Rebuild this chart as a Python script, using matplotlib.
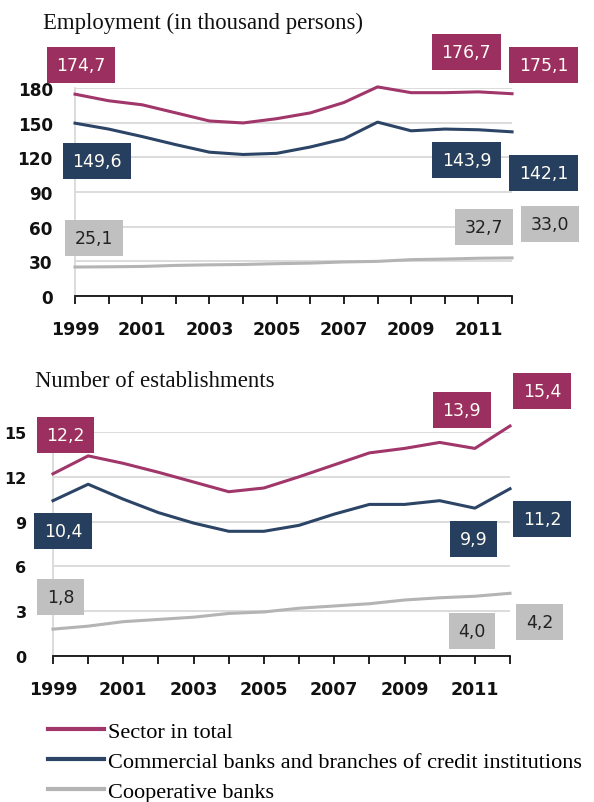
import matplotlib.pyplot as plt
from matplotlib.lines import Line2D
from matplotlib.path import Path

years = list(range(1999, 2013))
tick_years = list(range(1999, 2013, 2))

# Employment (thousand persons)
emp_total = [174.7, 169.0, 165.5, 158.5, 151.5, 149.8, 153.5, 158.5, 167.5, 181.0, 176.0, 176.0, 176.7, 175.1]
emp_commercial = [149.6, 144.5, 138.0, 131.0, 124.5, 122.5, 123.5, 129.0, 136.0, 150.5, 143.0, 144.5, 143.9, 142.1]
emp_cooperative = [25.1, 25.3, 25.6, 26.5, 27.0, 27.3, 28.0, 28.5, 29.5, 30.0, 31.5, 32.0, 32.7, 33.0]

# Number of establishments (thousand)
est_total = [12.2, 13.4, 12.9, 12.3, 11.65, 11.0, 11.25, 12.0, 12.8, 13.6, 13.9, 14.3, 13.9, 15.4]
est_commercial = [10.4, 11.5, 10.5, 9.6, 8.9, 8.35, 8.35, 8.75, 9.5, 10.15, 10.15, 10.4, 9.9, 11.2]
est_cooperative = [1.8, 2.0, 2.3, 2.45, 2.6, 2.85, 2.95, 3.2, 3.35, 3.5, 3.75, 3.9, 4.0, 4.2]

series_names = ['Sector in total',
                'Commercial banks and branches of credit institutions',
                'Cooperative banks']
line_colors = ['#a0366a', '#2c4566', '#b4b4b4']
box_colors = ['#9b2f60', '#263f5e', '#c0c0c0']
text_colors = ['#fffdf5', '#fffdf5', '#222222']

# (series index, year, value, dx px, dy px)
emp_labels = [(0, 1999, 174.7, 6, 29.5), (0, 2011, 176.7, -12, 40), (0, 2012, 175.1, 31.5, 29),
              (1, 1999, 149.6, 22, -38), (1, 2011, 143.9, -12, -30), (1, 2012, 142.1, 31.5, -41),
              (2, 1999, 25.1, 19, 29), (2, 2011, 32.7, 5.5, 31), (2, 2012, 33.0, 38, 34)]
est_labels = [(0, 1999, 12.2, 12.5, 39), (0, 2011, 13.9, -13, 38.5), (0, 2012, 15.4, 32, 35),
              (1, 1999, 10.4, 10, -30), (1, 2011, 9.9, -1, -31), (1, 2012, 11.2, 32, -30),
              (2, 1999, 1.8, 7.5, 32.5), (2, 2011, 4.0, -3, -35), (2, 2012, 4.2, 29.5, -29)]


def label_box(x0, y0, width, height, mutation_size):
    # flat rectangle, padding in pixels
    px, py = 9.5, 9.0
    x0, x1 = x0 - px, x0 + width + px
    y0, y1 = y0 - py, y0 + height + py
    return Path([(x0, y0), (x1, y0), (x1, y1), (x0, y1), (x0, y0)], closed=True)


fig = plt.figure(figsize=(5.94, 8.03), dpi=100)
ax1 = fig.add_axes([0.1263, 0.6301, 0.7357, 0.2590])
ax2 = fig.add_axes([0.0892, 0.1818, 0.7694, 0.2790])


def draw_panel(ax, data, yticks, labels, ysize, ypad):
    for vals, col in zip(data, line_colors):
        ax.plot(years, vals, color=col, lw=2.2, clip_on=False, zorder=3)
    ax.set_xlim(1999, 2012)
    ax.set_ylim(0, yticks[-1])
    ax.set_yticks(yticks)
    ax.set_xticks(years)
    ax.set_xticklabels([str(y) if y in tick_years else '' for y in years])
    ax.grid(axis='y', color='#d9d9d9', lw=1.3)
    ax.set_axisbelow(True)
    for s in ['top', 'right']:
        ax.spines[s].set_visible(False)
    ax.spines['left'].set_color('#d9d9d9')
    ax.spines['left'].set_linewidth(1.3)
    ax.spines['bottom'].set_color('#111111')
    ax.spines['bottom'].set_linewidth(1.3)
    ax.tick_params(axis='x', direction='out', length=6, width=1.3, pad=11,
                   labelsize=12.5, colors='#111111')
    ax.tick_params(axis='y', length=0, pad=ypad, labelsize=ysize, colors='#111111')
    for lab in ax.get_xticklabels() + ax.get_yticklabels():
        lab.set_fontweight('bold')
    for i, yr, v, dx, dy in labels:
        ax.annotate(f'{v:.1f}'.replace('.', ','), xy=(yr, v), xytext=(dx, dy),
                    textcoords='offset pixels', ha='center', va='center',
                    fontsize=12.5, color=text_colors[i], annotation_clip=False,
                    bbox=dict(boxstyle=label_box, fc=box_colors[i], ec='none'),
                    zorder=5)


draw_panel(ax1, [emp_total, emp_commercial, emp_cooperative],
           [0, 30, 60, 90, 120, 150, 180], emp_labels, 12.2, 16)
draw_panel(ax2, [est_total, est_commercial, est_cooperative],
           [0, 3, 6, 9, 12, 15], est_labels, 11.5, 19)

fig.text(43 / 594, 1 - 23 / 803, 'Employment (in thousand persons)', fontsize=16.4,
         family='Liberation Serif', va='center', ha='left', color='#111111')
fig.text(35 / 594, 1 - 382 / 803, 'Number of establishments', fontsize=16.4,
         family='Liberation Serif', va='center', ha='left', color='#111111')

handles = [Line2D([], [], color=c, lw=3) for c in line_colors]
fig.legend(handles, series_names, loc='upper left',
           bbox_to_anchor=(48 / 594, 1 - 722 / 803), frameon=False,
           prop={'family': 'Liberation Serif', 'size': 16.0},
           handlelength=2.5, handletextpad=0.18, labelspacing=0.43,
           borderpad=0, borderaxespad=0)

fig.savefig('out.png', dpi=100)
